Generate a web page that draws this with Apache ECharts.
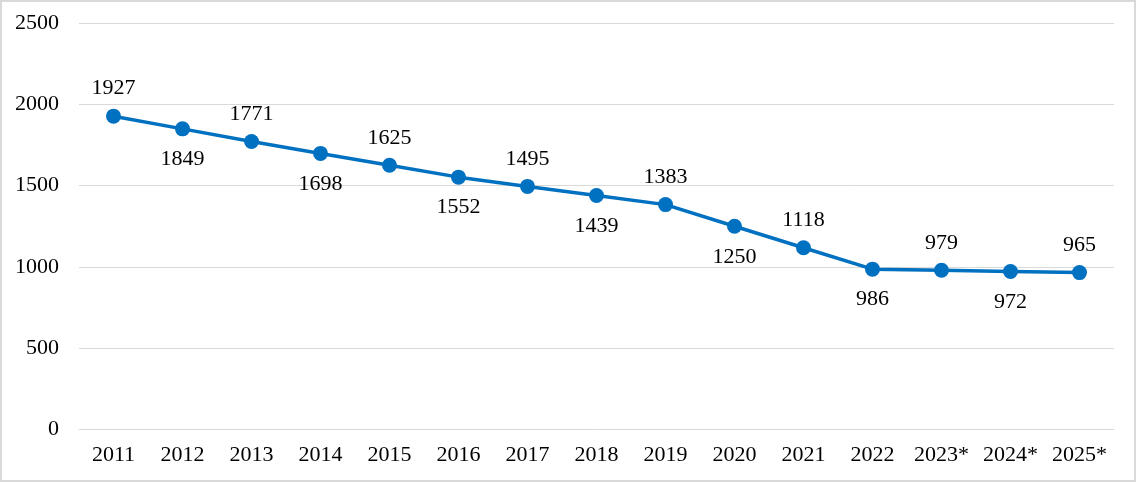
<!DOCTYPE html>
<html><head><meta charset="utf-8">
<script src="https://cdn.jsdelivr.net/npm/echarts@6/dist/echarts.min.js"></script>
<style>
html,body{margin:0;padding:0;background:#fff;}
#c{width:1136px;height:482px;box-sizing:border-box;border:2px solid #d9d9d9;}
</style></head><body>
<div id="c"></div>
<script>
const categories = ['2011','2012','2013','2014','2015','2016','2017','2018','2019','2020','2021','2022','2023*','2024*','2025*'];
const values = [1927,1849,1771,1698,1625,1552,1495,1439,1383,1250,1118,986,979,972,965];
const yTicks = [0,500,1000,1500,2000,2500];

const chart = echarts.init(document.getElementById('c'), null, {renderer:'canvas'});
const font = '"Liberation Serif","Times New Roman",serif';
const data = values.map((v,i)=>({value:v,label: i%2===0 ? {position:'top',distance:9} : {position:'bottom',distance:12}}));
chart.setOption({
  animation:false,
  grid:{left:77,right:20,top:21,bottom:50.5},
  xAxis:{type:'category',data:categories,boundaryGap:true,
    axisLine:{show:true,lineStyle:{color:'#d9d9d9',width:1}},
    axisTick:{show:false},
    axisLabel:{color:'#000',fontFamily:font,fontSize:22,margin:15,interval:0}},
  yAxis:{type:'value',min:yTicks[0],max:yTicks[yTicks.length-1],interval:500,
    axisLine:{show:false},axisTick:{show:false},
    splitLine:{lineStyle:{color:'#d9d9d9',width:1}},
    axisLabel:{color:'#000',fontFamily:font,fontSize:22,margin:20,formatter:v=>String(v)}},
  series:[{type:'line',data:data,
    lineStyle:{color:'#0070C0',width:3.5},
    itemStyle:{color:'#0070C0'},
    symbol:'circle',symbolSize:15,
    label:{show:true,color:'#000',fontFamily:font,fontSize:22}}]
});
</script></body></html>
